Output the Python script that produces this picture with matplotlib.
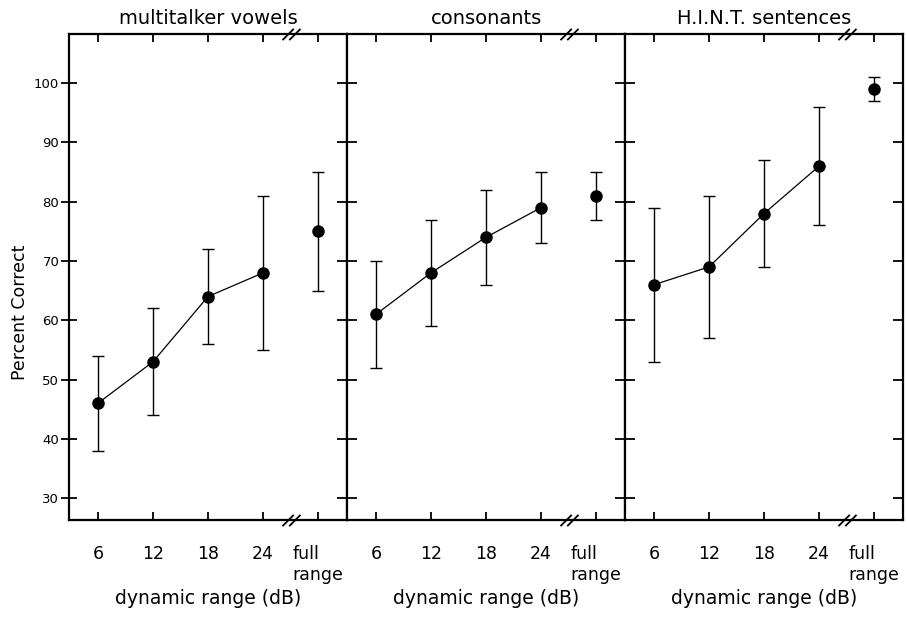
import matplotlib
matplotlib.use('Agg')
import matplotlib.pyplot as plt
from matplotlib.path import Path
import numpy as np

# dynamic range conditions; "full range" is placed at x = 30 past a break
ranges = [6, 12, 18, 24]
full_pos = 30
titles = ['multitalker vowels', 'consonants', 'H.I.N.T. sentences']

# mean percent correct for 6, 12, 18, 24 dB and full range
means = [
    [46, 53, 64, 68, 75],
    [61, 68, 74, 79, 81],
    [66, 69, 78, 86, 99],
]
# lower and upper ends of the error bars
lows = [
    [38, 44, 56, 55, 65],
    [52, 59, 66, 73, 77],
    [53, 57, 69, 76, 97],
]
highs = [
    [54, 62, 72, 81, 85],
    [70, 77, 82, 85, 85],
    [79, 81, 87, 96, 101],
]
tick_labels = ['6', '12', '18', '24', 'full\nrange']
yticks = [30, 40, 50, 60, 70, 80, 90, 100]

# break symbol "//"
brk = Path([(-1.6, -1), (0.4, 1), (-0.4, -1), (1.6, 1)],
           [Path.MOVETO, Path.LINETO, Path.MOVETO, Path.LINETO])

fig = plt.figure(figsize=(9.07, 6.17), dpi=100)
left, bottom, w, h = 69 / 907, 1 - 520 / 617, 278 / 907, 486 / 617

xs = np.array(ranges + [full_pos])
for i in range(3):
    ax = fig.add_axes([left + i * w, bottom, w, h])
    m = np.array(means[i])
    lo = m - np.array(lows[i])
    hi = np.array(highs[i]) - m
    ax.errorbar(xs, m, yerr=[lo, hi], fmt='none', ecolor='black',
                elinewidth=1.0, capsize=4, capthick=1.0)
    ax.plot(xs[:4], m[:4], color='black', lw=0.9)
    ax.plot(xs, m, 'o', color='black', ms=8)
    ax.set_xlim(2.84, 33.16)
    ax.set_ylim(26.3, 108.3)
    for sp in ax.spines.values():
        sp.set_linewidth(1.6)
    ax.set_xticks(xs)
    ax.set_xticklabels(tick_labels, fontsize=12.5, multialignment='left')
    ax.tick_params(axis='x', direction='in', top=True, length=6, width=1.3, pad=18)
    ax.set_yticks(yticks)
    if i == 0:
        ax.tick_params(axis='y', direction='inout', length=12, width=1.3,
                       labelsize=9.5, pad=1)
    else:
        ax.tick_params(axis='y', direction='in', length=7, width=1.3, labelleft=False)
    ax.set_title(titles[i], fontsize=14, pad=7)
    ax.set_xlabel('dynamic range (dB)', fontsize=13.5, labelpad=4)
    ax.plot([27, 27], [26.3, 108.3], linestyle='none', marker=brk, ms=13,
            mew=1.3, color='black', clip_on=False)

# right side ticks pointing inward on every panel
for ax in fig.axes:
    ax2 = ax.secondary_yaxis('right')
    ax2.set_yticks(yticks)
    ax2.tick_params(direction='in', length=7, width=1.3, labelright=False)
    ax2.spines['right'].set_visible(False)

fig.text(20 / 907, 1 - 312 / 617, 'Percent Correct', rotation=90,
         fontsize=12.5, ha='center', va='center')

fig.savefig('out.png', dpi=100)
